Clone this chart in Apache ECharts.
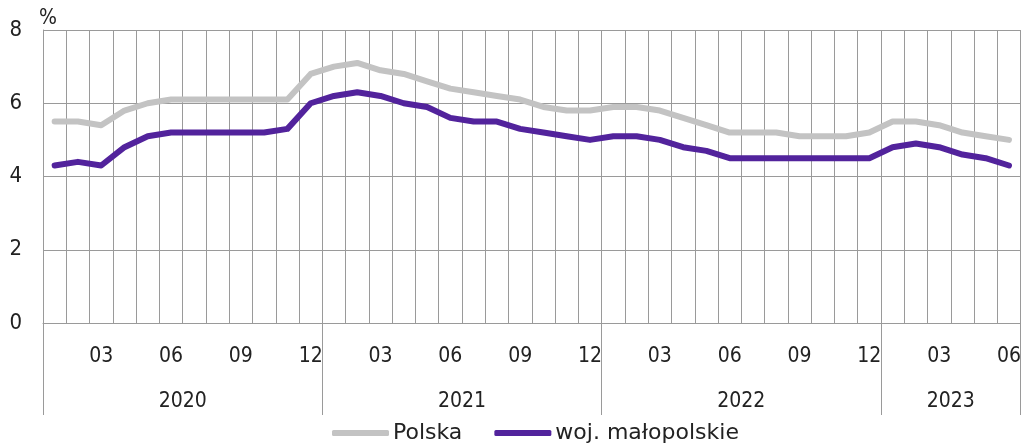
<!DOCTYPE html>
<html><head><meta charset="utf-8">
<script src="https://cdn.jsdelivr.net/npm/echarts@6/dist/echarts.min.js"></script>
<style>html,body{margin:0;padding:0;background:#fff}#c{width:1024px;height:445px}</style>
</head><body><div id="c"></div>
<script>
var years = ['2020','2021','2022','2023'];
var monthsPerYear = [12,12,12,6];
var monthLabels = ['01','02','03','04','05','06','07','08','09','10','11','12'];
var polska = [5.5,5.5,5.4,5.8,6.0,6.1,6.1,6.1,6.1,6.1,6.1,6.8,
              7.0,7.1,6.9,6.8,6.6,6.4,6.3,6.2,6.1,5.9,5.8,5.8,
              5.9,5.9,5.8,5.6,5.4,5.2,5.2,5.2,5.1,5.1,5.1,5.2,
              5.5,5.5,5.4,5.2,5.1,5.0];
var malopolskie = [4.3,4.4,4.3,4.8,5.1,5.2,5.2,5.2,5.2,5.2,5.3,6.0,
                   6.2,6.3,6.2,6.0,5.9,5.6,5.5,5.5,5.3,5.2,5.1,5.0,
                   5.1,5.1,5.0,4.8,4.7,4.5,4.5,4.5,4.5,4.5,4.5,4.5,
                   4.8,4.9,4.8,4.6,4.5,4.3];
var yTicks = [0,2,4,6,8];

var cats = [];
years.forEach(function(y,i){ for(var m=0;m<monthsPerYear[i];m++) cats.push(y+'-'+monthLabels[m]); });
var n = cats.length;
var half = [], yearTickIdx = {0:true}, yearLabelIdx = {};
var acc = 0;
years.forEach(function(y,i){
  yearLabelIdx[acc*2 + monthsPerYear[i]] = y;
  acc += monthsPerYear[i];
  yearTickIdx[acc*2] = true;
});
for (var k=0;k<=n*2;k++) half.push(yearLabelIdx[k] || '');

var grid = '#9a9a9a';
var condensed = '"DejaVu Sans Condensed", "DejaVu Sans", sans-serif';
var chart = echarts.init(document.getElementById('c'));
chart.setOption({
  animation:false,
  grid:{left:43,right:3,top:30,bottom:122},
  legend:{
    top:417,left:327,itemGap:32,itemWidth:57,itemHeight:6,
    icon:'roundRect',
    textStyle:{fontFamily:'"DejaVu Sans"',fontSize:22,color:'#222',padding:[0,0,0,-1]},
    data:['Polska','woj. małopolskie']
  },
  xAxis:[{
    type:'category',data:cats,boundaryGap:true,
    axisLine:{show:true,lineStyle:{color:grid,width:1}},
    axisTick:{show:false},
    splitLine:{show:true,interval:0,lineStyle:{color:grid,width:1}},
    axisLabel:{interval:0,margin:23,fontFamily:condensed,fontSize:21,color:'#222',
      formatter:function(v){var m=v.split('-')[1];return (parseInt(m,10)%3===0)?m:'';}}
  },{
    type:'category',data:half,boundaryGap:false,position:'bottom',
    axisLine:{show:false},
    axisTick:{show:true,length:92,lineStyle:{color:grid,width:1},
      interval:function(i){return !!yearTickIdx[i];}},
    axisLabel:{margin:68,fontFamily:condensed,fontSize:21,color:'#222',
      interval:function(i,v){return v!=='';}},
    splitLine:{show:false}
  }],
  yAxis:{
    type:'value',min:yTicks[0],max:yTicks[yTicks.length-1],interval:2,
    name:'%',nameLocation:'end',nameGap:1,
    nameTextStyle:{fontFamily:condensed,fontSize:21,color:'#222',align:'left',padding:[0,0,0,-4]},
    axisLine:{show:true,lineStyle:{color:grid}},
    axisTick:{show:false},
    splitLine:{show:true,lineStyle:{color:grid,width:1}},
    axisLabel:{margin:21,fontFamily:condensed,fontSize:22,color:'#222'}
  },
  series:[{
    name:'Polska',type:'line',data:polska,showSymbol:false,symbol:'none',
    lineStyle:{color:'#c3c3c3',width:6,cap:'round',join:'round'},itemStyle:{color:'#c3c3c3'}
  },{
    name:'woj. małopolskie',type:'line',data:malopolskie,showSymbol:false,symbol:'none',
    lineStyle:{color:'#52239c',width:6,cap:'round',join:'round'},itemStyle:{color:'#52239c'}
  }]
});
</script></body></html>
